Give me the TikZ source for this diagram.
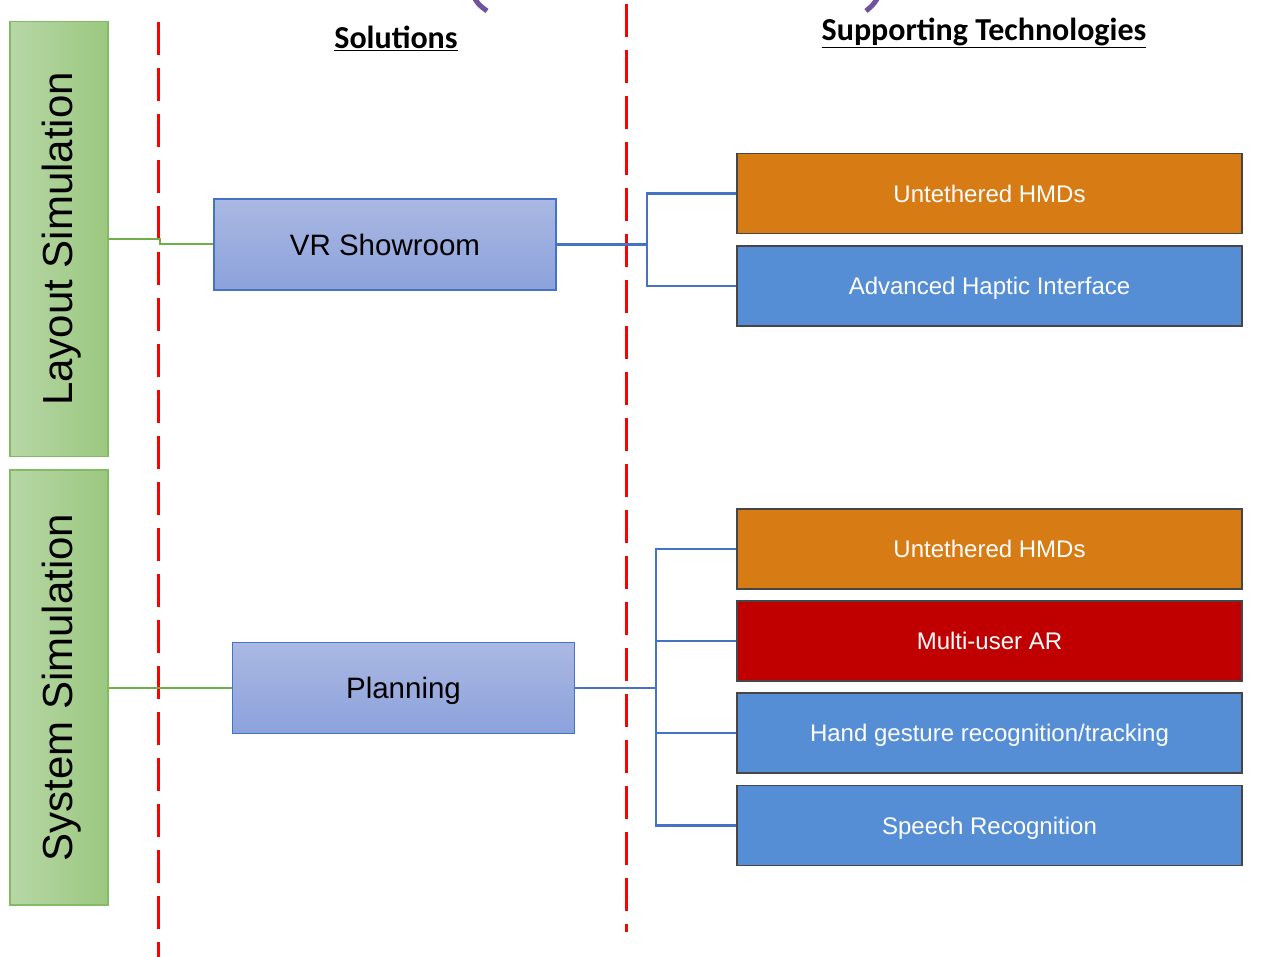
\documentclass[tikz,border=0pt]{standalone}
\usepackage{fontspec}
\setmainfont{Liberation Sans}
\newfontfamily\calib{Carlito}
\definecolor{gL}{RGB}{183,215,166}
\definecolor{gR}{RGB}{155,200,128}
\definecolor{gB}{RGB}{130,187,100}
\definecolor{gLine}{RGB}{112,173,71}
\definecolor{vT}{RGB}{170,184,226}
\definecolor{vB}{RGB}{140,162,220}
\definecolor{bLine}{RGB}{68,114,196}
\definecolor{orng}{RGB}{215,123,20}
\definecolor{bluebox}{RGB}{85,142,213}
\definecolor{redbox}{RGB}{192,0,0}
\definecolor{edge}{RGB}{70,70,70}
\definecolor{purp}{RGB}{112,82,160}
\tikzset{
  gbox/.style={draw=gB, line width=1.2pt, left color=gL, right color=gR, minimum width=98, minimum height=435, inner sep=0},
  sbox/.style={draw=bLine, line width=1.2pt, top color=vT, bottom color=vB, minimum width=342, minimum height=91, inner sep=0, text height=26.5pt, text depth=5.3pt, font=\fontsize{29.5}{34}\selectfont},
  tbox/.style={draw=edge, line width=1.2pt, minimum width=505, minimum height=80, inner sep=0, text=white, text height=21.6pt, text depth=4.3pt, font=\fontsize{24}{28}\selectfont},
  sidetxt/.style={rotate=90, font=\fontsize{42}{48}\selectfont},
  redline/.style={red, line width=3pt, dash pattern=on 33pt off 13pt},
  gconn/.style={gLine, line width=2pt},
  bconn/.style={bLine, line width=2.5pt},
  head/.style={font=\calib\bfseries\fontsize{32}{36}\selectfont},
}
\begin{document}
\begin{tikzpicture}[x=1pt,y=-1pt]
\useasboundingbox (0,0) rectangle (1263,957);
% purple fragments
\draw[purp, line width=5pt] (475,-1) .. controls (479,5) .. (487,11);
\draw[purp, line width=5pt] (877,-1) .. controls (873,5) .. (866,11);
% red dashed lines
\draw[redline] (158,22) -- (158,960);
\draw[redline] (626,4) -- (626,932);
% headings
\node[head] (sol) at (396,38) {\underline{Solutions}};
\node[head] (sup) at (984,33) {\underline{Supporting Technologies}};
% side boxes
\node[gbox] (lay) at (59,239) {};
\node[sidetxt] (layt) at ([xshift=3pt]lay.center) {Layout Simulation};
\node[gbox] (sys) at (59,687.5) {};
\node[sidetxt] (syst) at ([xshift=3pt]sys.center) {System Simulation};
% solution boxes
\node[sbox] (vr) at (385,244.5) {VR Showroom};
\node[sbox] (pl) at (403.5,688) {Planning};
% technology boxes
\node[tbox, fill=orng] (u1) at (989.5,193.5) {Untethered HMDs};
\node[tbox, fill=bluebox] (a1) at (989.5,286) {Advanced Haptic Interface};
\node[tbox, fill=orng] (u2) at (989.5,549) {Untethered HMDs};
\node[tbox, fill=redbox] (m2) at (989.5,641) {Multi-user AR};
\node[tbox, fill=bluebox] (h2) at (989.5,733) {Hand gesture recognition/tracking};
\node[tbox, fill=bluebox] (s2) at (989.5,825.5) {Speech Recognition};
% green connectors
\draw[gconn] (lay.east |- 0,239) -- (160,239) -- (160,244.5) -- (vr.west);
\draw[gconn] (sys.east |- 0,687.5) -- (171,687.5) -- (171,688) -- (pl.west);
% blue connectors
\draw[bconn] (vr.east) -- (647,244.5) coordinate (j1);
\draw[bconn] (u1.west) -| (j1) |- (a1.west);
\draw[bconn] (pl.east) -- (656,688) coordinate (j2);
\draw[bconn] (u2.west) -| (j2) |- (s2.west);
\draw[bconn] (m2.west) -| (j2);
\draw[bconn] (h2.west) -| (j2);
\end{tikzpicture}
\end{document}
